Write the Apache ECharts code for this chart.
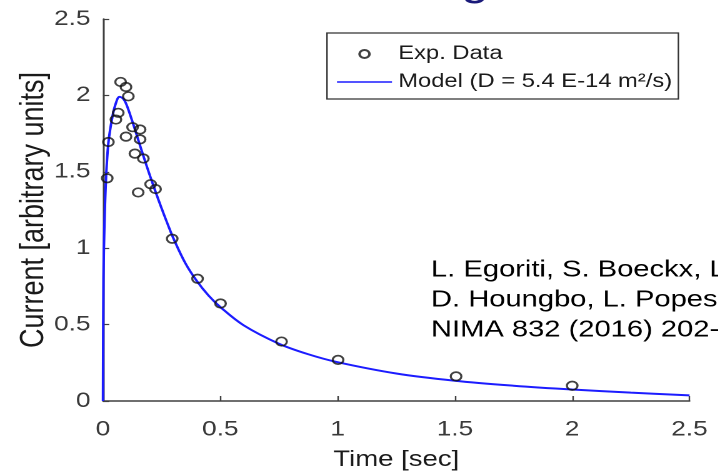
<!DOCTYPE html>
<html>
<head>
<meta charset="utf-8">
<script src="https://cdn.jsdelivr.net/npm/echarts@6/dist/echarts.min.js"></script>
<style>
html,body{margin:0;padding:0;background:#fff;}
#wrap{width:718px;height:476px;overflow:hidden;position:relative;}
#chart{width:574.4px;height:476px;transform:scaleX(1.25);transform-origin:0 0;}
</style>
</head>
<body>
<div id="wrap"><div id="chart"></div></div>
<script>
// Experimental data (Time [sec], Current [arbitrary units])
const expT = [0.018,0.023,0.055,0.065,0.075,0.098,0.108,0.098,0.126,0.158,0.158,0.136,0.172,0.203,0.224,0.150,0.295,0.403,0.501,0.761,1.002,1.505,2.0];
const expY = [1.458,1.695,1.842,1.886,2.088,2.055,1.994,1.730,1.792,1.777,1.712,1.619,1.587,1.419,1.387,1.365,1.062,0.800,0.638,0.389,0.269,0.161,0.100];
// Model curve
const modelT = [0,0.002,0.006,0.013,0.023,0.040,0.055,0.070,0.085,0.100,0.125,0.150,0.175,0.200,0.225,0.250,0.275,0.300,0.350,0.400,0.450,0.500,0.600,0.750,0.875,1.000,1.250,1.500,1.750,2.000,2.250,2.500];
const modelY = [0,0.80,1.15,1.46,1.69,1.86,1.95,1.99,1.98,1.94,1.83,1.71,1.59,1.475,1.365,1.26,1.16,1.065,0.905,0.785,0.69,0.615,0.495,0.375,0.306,0.254,0.18,0.1325,0.10,0.075,0.055,0.037];
const xTicks = ['0','0.5','1','1.5','2','2.5'];
const yTicks = ['0','0.5','1','1.5','2','2.5'];
const seriesNames = ['Exp. Data','Model (D = 5.4 E-14 m\u00B2/s)'];
const citation = ['L. Egoriti, S. Boeckx, L. Ghys, D. Van Dyck,','D. Houngbo, L. Popescu,','NIMA 832 (2016) 202-207'];

const chart = echarts.init(document.getElementById('chart'), null, {devicePixelRatio: 2});
const font = 'Liberation Sans, Arial, sans-serif';
const axisCol = '#404040';
const option = {
  animation: false,
  backgroundColor: '#fff',
  grid: {left: 82.4, right: 22.4, top: 19, bottom: 73},
  xAxis: {
    type: 'value', min: 0, max: 2.5, interval: 0.5,
    name: 'Time [sec]', nameLocation: 'middle', nameGap: 48,
    nameTextStyle: {fontFamily: font, fontSize: 22, color: '#1a1a1a'},
    axisLine: {show: true, lineStyle: {color: axisCol, width: 1.5}},
    axisTick: {show: true, inside: true, length: 5, lineStyle: {color: axisCol, width: 1.2}},
    splitLine: {show: false},
    axisLabel: {fontFamily: font, fontSize: 21, color: '#3a3a3a', margin: 18,
      formatter: (v) => xTicks[Math.round(v / 0.5)]}
  },
  yAxis: {
    type: 'value', min: 0, max: 2.5, interval: 0.5,
    name: 'Current [arbitrary units]', nameLocation: 'middle', nameGap: 42, nameMoveOverlap: false,
    nameTextStyle: {fontFamily: font, fontSize: 27, color: '#1a1a1a'},
    axisLine: {show: true, lineStyle: {color: axisCol, width: 1.5}},
    axisTick: {show: true, inside: true, length: 5, lineStyle: {color: axisCol, width: 1.2}},
    splitLine: {show: false},
    axisLabel: {fontFamily: font, fontSize: 21, color: '#3a3a3a', margin: 10,
      formatter: (v) => yTicks[Math.round(v / 0.5)]}
  },
  legend: {
    orient: 'vertical', left: 261.6, top: 33,
    padding: [9, 5, 5, 8], itemGap: 4, itemWidth: 44, itemHeight: 8,
    borderColor: '#333', borderWidth: 1.2, backgroundColor: '#fff',
    textStyle: {fontFamily: font, fontSize: 19, color: '#1a1a1a', lineHeight: 24},
    data: [
      {name: seriesNames[0]},
      {name: seriesNames[1], icon: 'path://M0,0H44V1.6H0Z'}
    ]
  },
  series: [
    {
      name: seriesNames[1], type: 'line', data: modelT.map((t, i) => [t, modelY[i]]),
      symbol: 'none', showSymbol: false, smooth: 0.35,
      lineStyle: {color: '#1c1cff', width: 2}, itemStyle: {color: '#1c1cff'}, z: 2
    },
    {
      name: seriesNames[0], type: 'scatter', data: expT.map((t, i) => [t, expY[i]]),
      symbol: 'circle', symbolSize: 8.5,
      itemStyle: {color: 'rgba(0,0,0,0)', borderColor: '#111', borderWidth: 1.7}, z: 3
    }
  ],
  graphic: [
    {type: 'text', left: 344.8, top: 255, z: 10,
     style: {text: citation.join('\n'), fontFamily: font, fontSize: 23.3, lineHeight: 30, fill: '#000'}},
    {type: 'text', x: 380, y: 4, z: 10,
     style: {text: 'g', fontFamily: font, fontSize: 40, fill: '#1a1a7a', align: 'center', verticalAlign: 'bottom'}}
  ]
};
chart.setOption(option);
</script>
</body>
</html>
